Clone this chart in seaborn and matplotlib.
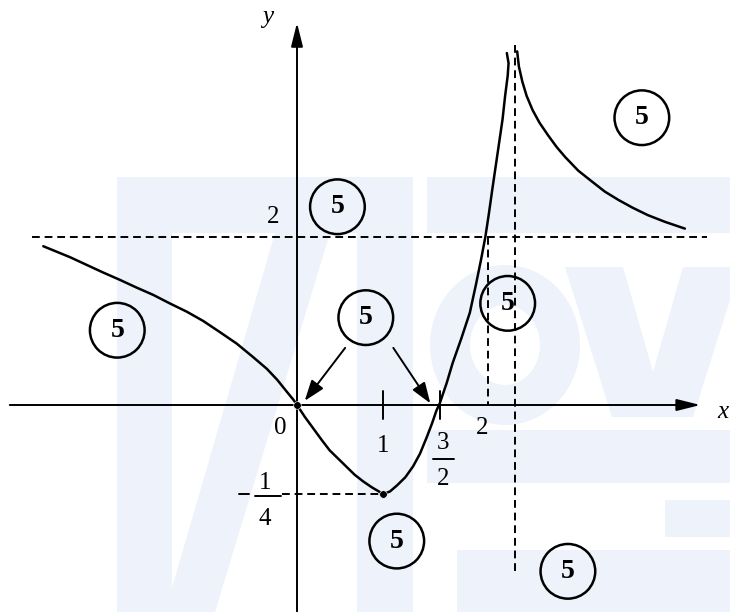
import numpy as np
import matplotlib
matplotlib.use('Agg')
import matplotlib.pyplot as plt
import seaborn as sns
from matplotlib.patches import Polygon, Ellipse

sns.set_theme(style='white')
plt.rcParams['font.family'] = ['Liberation Serif', 'DejaVu Serif']
plt.rcParams['text.color'] = 'black'

# sketch of y = f(x) (sketch units, not to scale)
left_x = [-2.95, -2.64, -2.45, -2.26, -2.06, -1.87, -1.67, -1.48, -1.28, -1.09,
          -0.90, -0.70, -0.51, -0.35, -0.23, -0.12, -0.04, 0.0]
left_y = [1.89, 1.76, 1.67, 1.58, 1.49, 1.40, 1.31, 1.21, 1.11, 1.00,
          0.87, 0.73, 0.57, 0.43, 0.30, 0.16, 0.06, 0.0]

mid_x = [0.0, 0.09, 0.19, 0.29, 0.38, 0.48, 0.58, 0.67, 0.77, 0.87, 0.97, 1.0,
         1.08, 1.16, 1.26, 1.35, 1.43, 1.51, 1.57, 1.62, 1.66,
         1.74, 1.81, 1.91, 2.01, 2.08, 2.14, 2.19, 2.23, 2.27, 2.31, 2.35,
         2.39, 2.42, 2.45, 2.46, 2.44]
mid_y = [0.0, -0.14, -0.28, -0.42, -0.54, -0.64, -0.74, -0.83, -0.91, -0.98, -1.04, -1.06,
         -1.03, -0.96, -0.86, -0.73, -0.58, -0.38, -0.22, -0.07, 0.02,
         0.26, 0.50, 0.79, 1.10, 1.43, 1.73, 2.00, 2.27, 2.56, 2.84, 3.12,
         3.40, 3.68, 3.92, 4.07, 4.19]

right_x = [2.56, 2.58, 2.62, 2.67, 2.74, 2.82, 2.92, 3.02, 3.12, 3.27, 3.43, 3.58,
           3.74, 3.90, 4.08, 4.28, 4.51]
right_y = [4.21, 4.03, 3.85, 3.68, 3.51, 3.36, 3.21, 3.07, 2.95, 2.79, 2.66, 2.54,
           2.44, 2.35, 2.26, 2.18, 2.10]

# key points
dots_x = [0.0, 1.0]
dots_y = [0.0, -1.06]
asym_x = 2.53
asym_y = 2.0
x_ticks = [1.0, 1.66]

# circled marks "5"
mark_x = [4.01, 0.47, -2.09, 0.80, 2.45, 1.16, 3.15]
mark_y = [3.42, 2.36, 0.89, 1.04, 1.21, -1.62, -1.98]

fig = plt.figure(figsize=(7.3, 6.12), dpi=100)

# faint watermark in the background (pixel space)
bg = fig.add_axes([0, 0, 1, 1])
bg.set_xlim(0, 730)
bg.set_ylim(612, 0)
bg.axis('off')
wm = '#edf2fb'
shapes = [
    [(117, 177), (172, 177), (172, 612), (117, 612)],
    [(117, 177), (413, 177), (413, 233), (117, 233)],
    [(427, 177), (730, 177), (730, 233), (427, 233)],
    [(357, 233), (413, 233), (413, 612), (357, 612)],
    [(165, 612), (215, 612), (330, 233), (275, 233)],
    [(565, 267), (623, 267), (653, 372), (683, 267), (730, 267), (730, 300), (693, 417), (612, 417)],
    [(427, 430), (730, 430), (730, 483), (427, 483)],
    [(665, 500), (730, 500), (730, 537), (665, 537)],
    [(457, 550), (730, 550), (730, 612), (457, 612)],
]
for s in shapes:
    bg.add_patch(Polygon(s, closed=True, color=wm, lw=0))
bg.add_patch(Ellipse((505, 345), 150, 160, color=wm, lw=0))
bg.add_patch(Ellipse((505, 345), 70, 80, color='white', lw=0))

ax = fig.add_axes([0, 0, 1, 1])
ax.patch.set_alpha(0)
ax.set_xlim(-297 / 86, 433 / 86)
ax.set_ylim(-207 / 84, 405 / 84)
ax.axis('off')

# axes with arrows
arr = dict(arrowstyle='-|>,head_length=0.8,head_width=0.2', lw=1.4, color='black',
           mutation_scale=18, shrinkA=0, shrinkB=0)
ax.annotate('', xy=(4.69, 0), xytext=(-3.34, 0), arrowprops=arr)
ax.annotate('', xy=(0, 4.55), xytext=(0, -2.46), arrowprops=arr)

# asymptotes and guides
dash = dict(color='black', lw=1.4, linestyle=(0, (4, 2.5)))
ax.plot([-3.08, 4.77], [asym_y, asym_y], **dash)
ax.plot([asym_x, asym_x], [4.29, -2.0], **dash)
ax.plot([2.22, 2.22], [asym_y, 0], **dash)
ax.plot([-0.17, dots_x[1]], [dots_y[1], dots_y[1]], **dash)

# curve
for xs, ys in [(left_x, left_y), (mid_x, mid_y), (right_x, right_y)]:
    sns.lineplot(x=xs, y=ys, sort=False, estimator=None, color='black', lw=1.8, ax=ax)
sns.scatterplot(x=dots_x, y=dots_y, color='black', s=30, ax=ax, zorder=5)

for t in x_ticks:
    ax.plot([t, t], [0.17, -0.17], color='black', lw=1.4)

# labels
fs = 18
ax.text(-0.34, 4.62, 'y', fontsize=fs, style='italic', ha='center', va='center')
ax.text(5.02, -0.08, 'x', fontsize=fs, style='italic', ha='right', va='center')
ax.text(-0.28, 2.24, '2', fontsize=fs, ha='center', va='center')
ax.text(-0.20, -0.27, '0', fontsize=fs, ha='center', va='center')
ax.text(1.0, -0.49, '1', fontsize=fs, ha='center', va='center')
ax.text(2.15, -0.27, '2', fontsize=fs, ha='center', va='center')
ax.text(1.70, -0.45, '3', fontsize=fs, ha='center', va='center')
ax.plot([1.58, 1.83], [-0.64, -0.64], color='black', lw=1.4)
ax.text(1.70, -0.88, '2', fontsize=fs, ha='center', va='center')
ax.plot([-0.68, -0.56], [-1.06, -1.06], color='black', lw=1.4)
ax.text(-0.37, -0.93, '1', fontsize=fs, ha='center', va='center')
ax.plot([-0.49, -0.19], [-1.08, -1.08], color='black', lw=1.4)
ax.text(-0.37, -1.36, '4', fontsize=fs, ha='center', va='center')

# arrows to the zeros
head = dict(arrowstyle='-|>,head_length=0.7,head_width=0.25', lw=1.4, color='black',
            mutation_scale=18, shrinkA=0, shrinkB=0)
ax.annotate('', xy=(0.09, 0.05), xytext=(0.56, 0.68), arrowprops=head)
ax.annotate('', xy=(1.55, 0.02), xytext=(1.12, 0.68), arrowprops=head)

# circled 5s
sns.scatterplot(x=mark_x, y=mark_y, s=1550, facecolor='none', edgecolor='black',
                linewidth=1.8, ax=ax, zorder=4)
for mx, my in zip(mark_x, mark_y):
    ax.text(mx, my, '5', fontsize=20, fontweight='bold', ha='center', va='center')

fig.savefig('out.png', dpi=100)
